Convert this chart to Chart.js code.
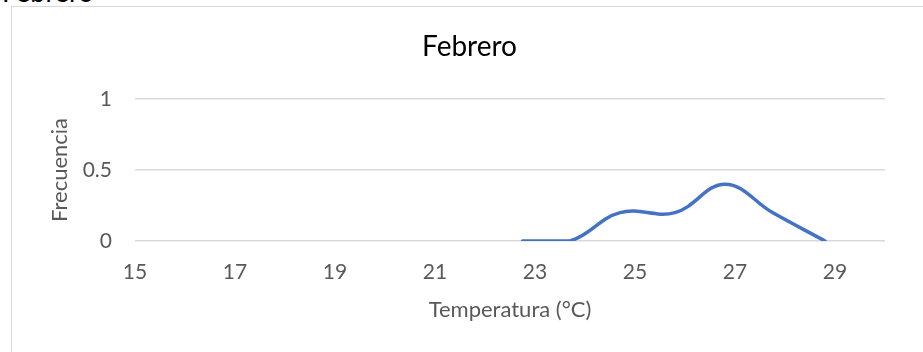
<!DOCTYPE html>
<html>
<head>
<meta charset="utf-8">
<script src="https://cdn.jsdelivr.net/npm/chart.js@4/dist/chart.umd.min.js"></script>
<style>
  html, body { margin: 0; padding: 0; background: #fff; overflow: hidden; }
  body { width: 923px; height: 352px; position: relative; font-family: Lato, "Open Sans", sans-serif; }
  #heading { position: absolute; left: 2px; top: -22.5px; font-size: 27px; line-height: 1; color: #000; white-space: nowrap; }
  #frame { position: absolute; left: 11px; top: 6px; width: 1000px; height: 1000px; border: 1.5px solid #d9d9d9; box-sizing: border-box; }
  #wrap { position: absolute; left: 0; top: 0; width: 923px; height: 352px; }
</style>
</head>
<body>
<div id="heading">Febrero</div>
<div id="frame"></div>
<div id="wrap"><canvas id="c" width="923" height="352"></canvas></div>
<script>
// Temperature (°C) against relative frequency for February
const temperatures = [22.75, 23.7, 24.7, 25.8, 26.8, 27.75, 28.8];
const frequencies  = [0, 0, 0.2, 0.2, 0.4, 0.2, 0];
const xTicks = [15, 17, 19, 21, 23, 25, 27, 29];
const yTicks = [0, 0.5, 1];

const points = temperatures.map((t, i) => ({ x: t, y: frequencies[i] }));
const tickColor = '#595959';
const fontFamily = 'Lato, "Open Sans", sans-serif';

new Chart(document.getElementById('c'), {
  type: 'scatter',
  data: {
    datasets: [{
      data: points,
      showLine: true,
      borderColor: '#4472C4',
      borderWidth: 3.5,
      borderCapStyle: 'round',
      pointRadius: 0,
      tension: 0.4,
      fill: false
    }]
  },
  options: {
    responsive: false,
    animation: false,
    layout: { padding: { left: 54, right: 38, top: 0, bottom: 0 } },
    plugins: {
      legend: { display: false },
      tooltip: { enabled: false },
      title: {
        display: true,
        text: 'Febrero',
        color: '#000',
        font: { family: fontFamily, size: 28, weight: 'normal' },
        padding: { top: 30, bottom: 35.4 }
      }
    },
    scales: {
      x: {
        type: 'linear',
        min: 15,
        max: 30,
        afterBuildTicks: s => { s.ticks = xTicks.map(v => ({ value: v })); },
        afterFit: s => { s.height = 111; },
        grid: { display: false, drawTicks: false },
        border: { display: false },
        ticks: { color: tickColor, padding: 19, callback: v => String(v), font: { family: fontFamily, size: 21 } },
        title: {
          display: true,
          text: 'Temperatura (°C)',
          color: tickColor,
          font: { family: fontFamily, size: 22 },
          padding: { top: 0, bottom: 29 }
        }
      },
      y: {
        min: 0,
        max: 1,
        afterBuildTicks: s => { s.ticks = yTicks.map(v => ({ value: v })); },
        afterFit: s => { s.width = 81; },
        grid: { color: '#d9d9d9', lineWidth: 1.5, drawTicks: false },
        border: { display: false },
        ticks: { color: tickColor, padding: 23, callback: v => String(v), font: { family: fontFamily, size: 21 } },
        title: {
          display: true,
          text: 'Frecuencia',
          color: tickColor,
          font: { family: fontFamily, size: 22 },
          padding: { top: -7, bottom: 0 }
        }
      }
    }
  }
});
</script>
</body>
</html>
